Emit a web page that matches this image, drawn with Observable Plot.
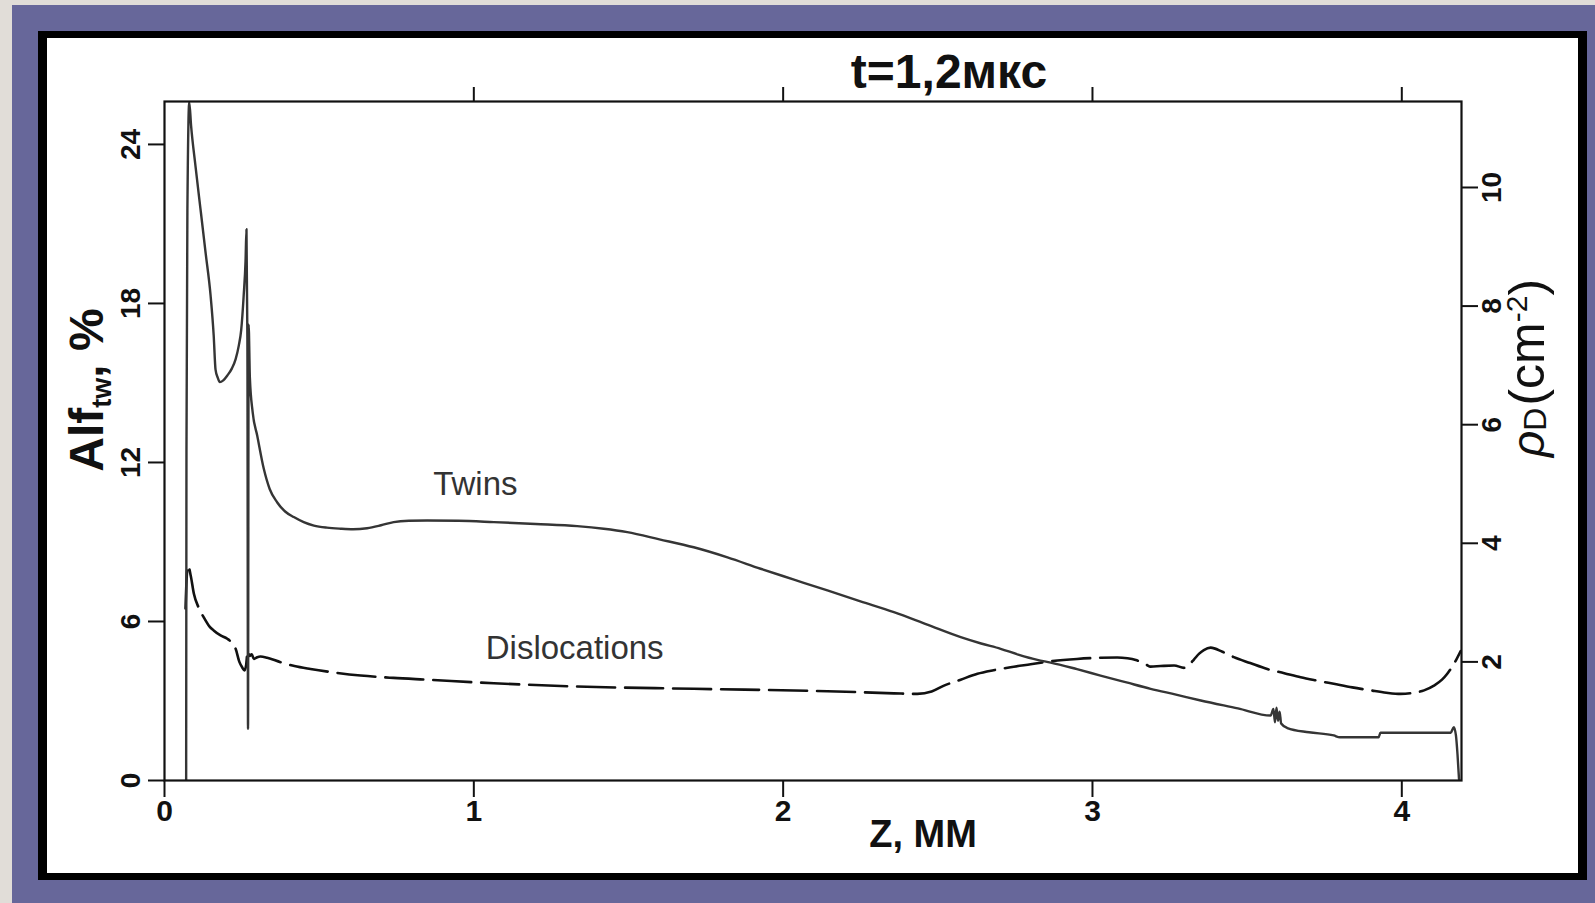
<!DOCTYPE html>
<html><head><meta charset="utf-8">
<script src="https://cdn.jsdelivr.net/npm/d3@7"></script>
<script src="https://cdn.jsdelivr.net/npm/@observablehq/plot@0.6"></script>
<style>
html,body{margin:0;padding:0;}
body{width:1595px;height:903px;position:relative;overflow:hidden;background:#e1ddd8;font-family:"Liberation Sans",Arial,sans-serif;}
#purple{position:absolute;left:12px;top:5px;width:1583px;height:898px;background:#67679a;}
#frame{position:absolute;left:38px;top:31px;width:1549px;height:849px;box-sizing:border-box;background:#fff;border:solid #000;border-width:7px 9px 7px 9px;}
#chart{position:absolute;left:0;top:0;}
#chart g[aria-label="y-axis tick label"]{font-size:28px !important;font-weight:bold;}
#chart g[aria-label="x-axis tick label"]{font-size:30px !important;font-weight:bold;}
</style></head><body>
<div id="purple"></div><div id="frame"></div><div id="chart"></div>
<script>
// ---- texts ----
const titleText = "t=1,2мкс";
const xLabelText = "Z, MM";
const leftLabelParts = ["Alf", "tw", ", %"];
const rightLabelParts = ["ρ", "D", "(cm", "-2", ")"];
const seriesNames = ["Twins", "Dislocations"];
// label positions in data units (z, Alf %)
const labelZ = [1.005, 1.326];
const labelAlf = [11.17, 4.98];

// ---- scales / ticks ----
const xDomain = [0, 4.193];
const leftDomain = [0, 25.62];   // Alf_tw, %
const rightDomain = [0, 11.45];  // rho_D
const xTicks = [0, 1, 2, 3, 4];
const topTicks = [1, 2, 3, 4];
const leftTicks = [0, 6, 12, 18, 24];
const rightTicks = [2, 4, 6, 8, 10];

// ---- Twins: z (mm), Alf_tw (%) ----
const twinsZ = [
  0.070,0.071,0.074,0.080,0.086,0.100,0.116,0.133,0.149,0.159,
  0.165,0.172,0.179,0.190,0.203,0.218,0.230,0.240,0.248,0.256,
  0.262,0.265,0.268,0.270,0.272,0.276,0.285,0.300,0.321,0.340,
  0.364,0.390,0.418,0.450,0.483,0.525,0.569,0.610,0.655,0.700,
  0.741,0.790,0.849,0.950,1.065,1.200,1.334,1.420,1.496,1.600,
  1.711,1.820,1.927,2.035,2.143,2.250,2.358,2.466,2.574,2.640,
  2.703,2.760,2.822,2.865,2.950,3.026,3.110,3.188,3.270,3.350,
  3.470,3.576,3.585,3.590,3.595,3.600,3.605,3.610,3.630,3.700,
  3.780,3.800,3.925,3.931,4.158,4.168,4.175,4.180,4.185
];
const twinsAlf = [
  0,12.4,21.5,25.6,24.7,23.2,21.6,19.9,18.3,16.8,
  15.5,15.2,15.03,15.1,15.28,15.55,15.9,16.4,17.0,18.3,
  19.6,20.8,16.6,1.95,17.2,15.2,13.9,13.0,11.76,11.0,
  10.5,10.15,9.94,9.75,9.62,9.54,9.5,9.48,9.52,9.63,
  9.75,9.8,9.81,9.8,9.75,9.68,9.6,9.5,9.37,9.1,
  8.8,8.42,7.99,7.58,7.17,6.76,6.35,5.88,5.41,5.17,
  4.97,4.75,4.55,4.45,4.2,3.96,3.7,3.46,3.24,3.02,
  2.72,2.45,2.7,2.2,2.75,2.25,2.6,2.15,1.98,1.82,
  1.7,1.63,1.63,1.80,1.80,2.01,1.7,1.0,0.05
];

// ---- Dislocations: z (mm), rho_D (right axis units) ----
const dislZ = [
  0.068,0.072,0.076,0.085,0.095,0.110,0.127,0.145,0.159,0.180,
  0.203,0.218,0.230,0.242,0.251,0.259,0.264,0.269,0.275,0.282,
  0.289,0.300,0.310,0.332,0.375,0.420,0.472,0.550,0.634,0.740,
  0.849,1.065,1.334,1.711,2.143,2.358,2.434,2.480,2.520,2.574,
  2.628,2.680,2.735,2.800,2.865,2.950,3.026,3.080,3.113,3.140,
  3.156,3.175,3.188,3.220,3.264,3.296,3.312,3.328,3.345,3.360,
  3.382,3.420,3.457,3.510,3.565,3.620,3.673,3.730,3.780,3.840,
  3.899,3.950,3.996,4.040,4.072,4.104,4.130,4.147,4.170,4.190
];
const dislRho = [
  2.9,3.45,3.63,3.45,3.15,2.92,2.75,2.6,2.53,2.45,
  2.39,2.32,2.22,2.0,1.91,1.855,1.95,2.19,2.1,2.13,
  2.05,2.08,2.09,2.07,1.995,1.93,1.88,1.82,1.77,1.73,
  1.70,1.64,1.585,1.546,1.506,1.47,1.46,1.5,1.60,1.70,
  1.80,1.86,1.91,1.96,2.01,2.05,2.07,2.075,2.06,2.03,
  2.0,1.95,1.92,1.93,1.94,1.90,1.95,2.04,2.14,2.20,
  2.24,2.17,2.08,1.98,1.88,1.81,1.74,1.68,1.63,1.57,
  1.52,1.48,1.46,1.48,1.52,1.60,1.70,1.80,1.98,2.18
];

// ---- build ----
const ratio = (leftDomain[1] - leftDomain[0]) / (rightDomain[1] - rightDomain[0]);
const toLeft = r => leftDomain[0] + (r - rightDomain[0]) * ratio;
const twins = twinsZ.map((z, i) => ({z, v: twinsAlf[i]}));
const disl = dislZ.map((z, i) => ({z, v: toLeft(dislRho[i])}));
const seriesLabels = seriesNames.map((t, i) => ({t, z: labelZ[i], v: labelAlf[i]}));

const font = '"Liberation Sans", Arial, Helvetica, sans-serif';
const narrow = '"Liberation Sans Narrow", "Arial Narrow", "Liberation Sans", Arial, sans-serif';
const chart = Plot.plot({
  width: 1595, height: 903,
  marginLeft: 164, marginRight: 134, marginTop: 101, marginBottom: 123,
  style: {background: "transparent", fontFamily: font, color: "#111", overflow: "visible"},
  x: {domain: xDomain},
  y: {domain: leftDomain},
  marks: [
    Plot.line(disl, {x: "z", y: "v", stroke: "#111", strokeWidth: 2.6, strokeDasharray: "38,10", curve: "monotone-x", clip: true}),
    Plot.line(twins, {x: "z", y: "v", stroke: "#353535", strokeWidth: 2.4, curve: "monotone-x", clip: true}),
    Plot.frame({stroke: "#111", strokeWidth: 2.2}),
    Plot.axisX({anchor: "bottom", ticks: xTicks, tickSize: 17, tickPadding: 2, tickFormat: d => String(d),
      fontSize: 30, fontWeight: "bold", fontFamily: narrow, label: null, strokeWidth: 2}),
    Plot.axisX({anchor: "top", ticks: topTicks, tickSize: 15, tickFormat: () => "", label: null, strokeWidth: 2}),
    Plot.axisY({anchor: "left", ticks: leftTicks, tickSize: 16, tickRotate: -90, lineAnchor: "bottom", textAnchor: "middle",
      tickPadding: 9, fontSize: 28, fontWeight: "bold", label: null, strokeWidth: 2, tickFormat: d => String(d)}),
    Plot.axisY({anchor: "right", ticks: rightTicks.map(toLeft), tickFormat: v => String(Math.round(v / ratio)),
      tickSize: 16, tickRotate: -90, lineAnchor: "top", textAnchor: "middle", tickPadding: 4,
      fontSize: 27, fontWeight: "bold", label: null, strokeWidth: 2}),
    Plot.text(seriesLabels, {x: "z", y: "v", text: "t", fontSize: 33, fill: "#333", lineAnchor: "middle"}),
    Plot.text([titleText], {frameAnchor: "top", text: d => d, dx: 136, dy: -14, lineAnchor: "bottom",
      fontSize: 48, fontWeight: "bold", fill: "#111"}),
    Plot.text([xLabelText], {frameAnchor: "bottom", text: d => d, dx: 110, dy: 66, lineAnchor: "bottom",
      fontSize: 38, fontWeight: "bold", fill: "#111"}),
    Plot.text([leftLabelParts.join("")], {frameAnchor: "left", text: d => d, rotate: -90, dx: -62, dy: -51,
      lineAnchor: "bottom", textAnchor: "middle", fontSize: 48, fontWeight: "bold", fill: "#111", className: "lab-left"}),
    Plot.text([rightLabelParts.join("")], {frameAnchor: "right", text: d => d, rotate: -90, dx: 82, dy: -73,
      lineAnchor: "bottom", textAnchor: "middle", fontSize: 50, fill: "#111", className: "lab-right"})
  ]
});
document.getElementById("chart").appendChild(chart);

// rich text (subscript / superscript) for axis titles
function rich(cls, parts) {
  const t = chart.querySelector("." + cls + " text");
  if (!t) return;
  t.textContent = "";
  for (const p of parts) {
    const ts = document.createElementNS("http://www.w3.org/2000/svg", "tspan");
    ts.textContent = p.t;
    if (p.size) ts.setAttribute("font-size", p.size);
    if (p.dy) ts.setAttribute("dy", p.dy);
    if (p.style) ts.setAttribute("font-style", p.style);
    if (p.dx) ts.setAttribute("dx", p.dx);
    t.appendChild(ts);
  }
}
rich("lab-left", [
  {t: leftLabelParts[0]},
  {t: leftLabelParts[1], size: 27, dy: 8},
  {t: leftLabelParts[2], dy: -8}
]);
rich("lab-right", [
  {t: rightLabelParts[0], style: "italic", size: 46},
  {t: rightLabelParts[1], size: 32, dy: 2},
  {t: rightLabelParts[2], dy: -2, dx: 2},
  {t: rightLabelParts[3], size: 30, dy: -17},
  {t: rightLabelParts[4], dy: 17}
]);
</script>
</body></html>
